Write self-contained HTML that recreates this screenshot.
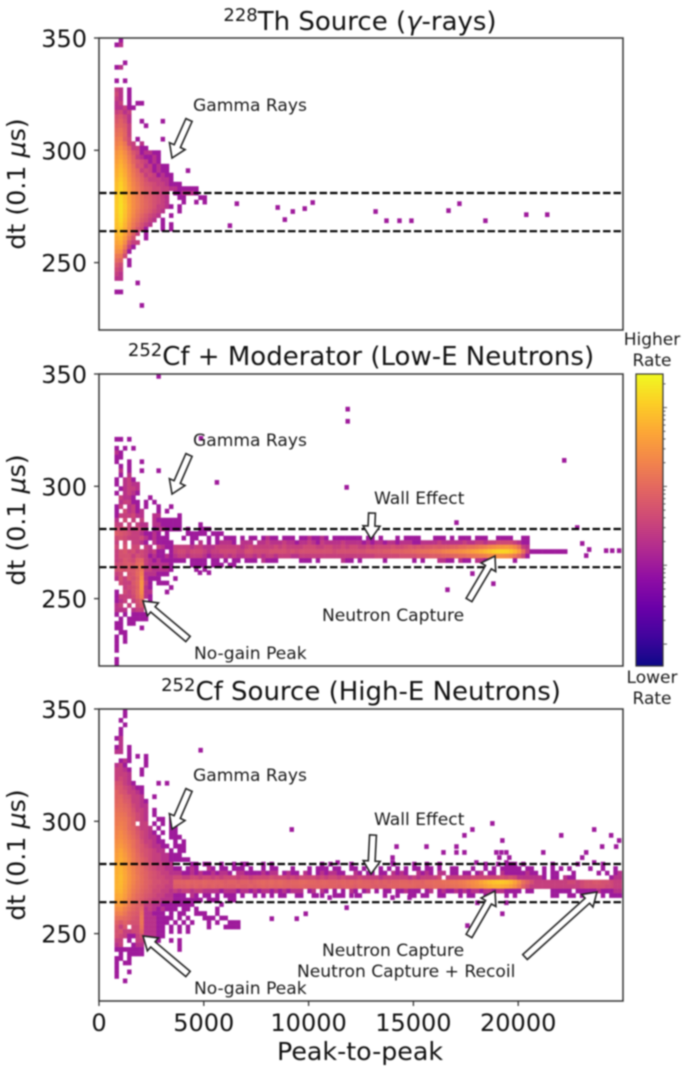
<!DOCTYPE html>
<html lang="en">
<head>
<meta charset="utf-8">
<title>Peak-to-peak vs dt heatmaps</title>
<style>
  html, body { margin: 0; padding: 0; background: #fff; }
  body { width: 685px; height: 1070px; overflow: hidden; }
  svg { display: block; filter: blur(0.7px); font-family: "DejaVu Sans", "Liberation Sans", sans-serif; fill: #111; }
  .tick-label { font-size: 24px; }
  .axis-label { font-size: 25.3px; }
  .panel-title { font-size: 26px; }
  .note { font-size: 17.1px; fill: #1a1a1a; }
  .cbar-note { font-size: 17px; fill: #1a1a1a; text-anchor: middle; }
</style>
</head>
<body>
<svg id="chart" xmlns="http://www.w3.org/2000/svg" width="685" height="1070" viewBox="0 0 685 1070">
  <defs>
    <linearGradient id="plasma-gradient" x1="0" y1="1" x2="0" y2="0"></linearGradient>
  </defs>
  <g id="cells"></g>
  <g id="dashes"></g>
  <g id="arrows"></g>
  <g id="axes"></g>

  <text class="panel-title" x="360" y="30" text-anchor="middle"><tspan font-size="18" dy="-9">228</tspan><tspan dy="9">Th Source (</tspan><tspan font-style="italic">γ</tspan>-rays)</text>
  <text class="panel-title" x="361" y="365" text-anchor="middle"><tspan font-size="18" dy="-9">252</tspan><tspan dy="9">Cf + Moderator (Low-E Neutrons)</tspan></text>
  <text class="panel-title" x="361" y="700" text-anchor="middle"><tspan font-size="18" dy="-9">252</tspan><tspan dy="9">Cf Source (High-E Neutrons)</tspan></text>

  <text class="axis-label" transform="translate(25,184) rotate(-90)" text-anchor="middle">dt (0.1 <tspan font-style="italic">μ</tspan>s)</text>
  <text class="axis-label" transform="translate(25,520) rotate(-90)" text-anchor="middle">dt (0.1 <tspan font-style="italic">μ</tspan>s)</text>
  <text class="axis-label" transform="translate(25,855) rotate(-90)" text-anchor="middle">dt (0.1 <tspan font-style="italic">μ</tspan>s)</text>
  <text class="axis-label" x="360" y="1060" text-anchor="middle">Peak-to-peak</text>

  <text class="note" x="193" y="111">Gamma Rays</text>
  <text class="note" x="193" y="446">Gamma Rays</text>
  <text class="note" x="374" y="504">Wall Effect</text>
  <text class="note" x="322" y="621">Neutron Capture</text>
  <text class="note" x="194" y="659">No-gain Peak</text>
  <text class="note" x="193" y="781">Gamma Rays</text>
  <text class="note" x="374" y="825">Wall Effect</text>
  <text class="note" x="322" y="956">Neutron Capture</text>
  <text class="note" x="297" y="977">Neutron Capture + Recoil</text>
  <text class="note" x="194" y="994">No-gain Peak</text>

  <text class="cbar-note" x="652" y="345">Higher</text>
  <text class="cbar-note" x="652" y="366">Rate</text>
  <text class="cbar-note" x="652" y="683">Lower</text>
  <text class="cbar-note" x="652" y="704">Rate</text>
  <rect id="colorbar" x="636" y="374" width="27" height="292" fill="url(#plasma-gradient)" stroke="#333" stroke-width="1.2"></rect>
  <g id="cbar-ticks"></g>
</svg>

<script>
/* ---------- shared axis values ---------- */
const xTicks = [0, 5000, 10000, 15000, 20000];
const yTicks = [350, 300, 250];
const referenceDt = [281, 264];
const cbarDecades = [0.1, 1, 10, 100];
const cbarMultipliers = [1, 2, 3, 4, 5, 6, 7, 8, 9];
const plasmaColors = ["#0d0887","#41049d","#6a00a8","#8f0da4","#b12a90","#cc4778","#e16462","#f2844b","#fca636","#fcce25","#f0f921"];

/* ---------- 228Th panel: [dt bin top, counts per peak-to-peak bin] ---------- */
const thRows = [
[350,[0,1]],[348,[1,2]],[340,[0,0,1]],[338,[1,2]],[332,[1,0,1]],
[328,[3,2,0,1]],[326,[4,2,0,1]],[324,[3,2,0,1]],[322,[2,3,0,1,0,1,1]],[320,[2,2,3,1,1]],
[318,[3,4,2,3]],[316,[5,6,4,2]],[314,[6,8,5,2,0,0,1,0,0,0,0,1]],[312,[8,9,7,3,0,0,0,1]],[310,[10,12,8,3]],
[308,[12,14,9,3]],[306,[15,18,8,4,0,1,0,0,0,0,0,1]],[304,[18,22,14,4,3,0,2]],[302,[22,30,18,9,3,3,1,1]],
[300,[30,38,24,12,6,4,1,2,2,1,1]],[298,[35,45,30,15,8,3,2,1,1,2,1]],[296,[40,55,35,18,9,6,4,3,1,2,1]],
[294,[48,65,42,22,12,5,5,2,3,1,2,1,1]],[292,[55,75,50,25,14,9,3,4,3,1,2,1,1,0,0,0,0,1]],
[290,[60,85,55,28,16,10,7,3,4,3,1,2,1,1]],[288,[70,100,65,32,18,12,8,5,3,3,3,2,2,1]],
[286,[80,115,70,36,20,14,9,6,5,4,3,3,2,1,1,1]],[284,[85,125,75,40,22,15,10,7,6,4,4,3,3,2,2,1,1,1,1,1]],
[282,[90,130,80,42,24,16,11,8,6,5,4,3,3,0,1,1,2,2,2,1]],[280,[95,140,85,45,25,17,12,8,7,5,4,3,2,0,0,1,1,0,0,0,1,1]],
[278,[100,150,90,45,26,18,12,9,7,5,4,3,2,0,0,0,1,0,0,1,0,1]],[276,[105,160,95,48,26,18,12,9,7,5,3,3,2,1,0,1]],
[274,[100,160,90,45,25,16,11,8,6,4,3,2,0,0,0,1]],[272,[95,150,85,42,22,14,9,6,4,3,2,0,0,1]],
[270,[90,140,75,36,18,12,7,5,3,2,0,1]],[268,[85,120,65,30,15,9,5,3,2,0,0,1,0,1]],
[266,[75,100,55,25,12,6,4,1,0,0,0,1,0,1]],[264,[65,85,45,18,8,3,0,1]],[262,[55,70,35,12,5,0,0,1]],
[260,[45,55,25,6,3,3]],[258,[35,40,15,3,1]],[256,[25,25,8,1]],[254,[15,14,4]],[252,[10,8,0,1]],
[250,[6,4,0,1]],[248,[4,3]],[246,[3,2]],[244,[2,2]],[242,[0,0,0,0,0,1]],[238,[1,1]],[232,[0,0,0,0,0,0,1]]
];
const thOutlierX = [6240,6570,8520,8860,9240,9810,10190,13190,13710,14330,14900,16670,17190,18430,20380,21380];
const thOutlierDt = [266.5,276.3,274.6,269.2,272.8,274.1,276.8,272.8,268.7,268.7,268.7,273.2,276.3,268.7,271.4,271.4];

/* ---------- 252Cf + moderator panel ---------- */
const modRows = [
[350,[0,0,0,0,0,0,0,0,0,0,1]],
[322,[1,1,0,1]],[318,[1,0,1,0,1]],[316,[2,1]],[314,[1,1]],[312,[1,0,0,1,0,0,1]],[310,[0,1,0,1]],
[308,[0,2,0,1,0,0,1,0,0,0,1]],[306,[0,1,0,2]],[304,[1,0,2,3,1]],[302,[1,0,2,3,2,2]],[300,[0,1,2,3,3,2]],
[298,[1,0,2,3,2,1]],[296,[0,3,2,2,1,0,0,0,1]],[294,[0,2,3,3,1,1,0,1,0,1]],[292,[1,3,0,2,3,1,0,1,0,0,1,0,0,1]],
[290,[1,0,4,2,3,1,2,0,0,0,1,0,1]],[288,[1,3,3,3,4,2,2,0,0,2,2,0,0,0,0,1]],[286,[2,0,4,0,3,0,3,0,0,2,1,1,1,1,1,1]],
[284,[3,3,0,3,0,3,2,2,0,2,2,1,1,1,1,1,0,0,0,0,1]],[282,[5,4,6,3,3,4,3,2,0,1,2,2,1,1,1,1,0,1,0,0,1,1,1]],
[280,[7,6,5,4,3,3,2,1,1,2,1,0,1,0,0,0,0,1,1,1,1,1,0,1,1,1]],
[278,[4,5,4,3,3,3,4,2,1,2,1,1,1,0]],[276,[3,0,4,0,3,3,2,1,0,2,1,1,1,1]],[274,[4,0,5,0,4,4,0,3,2,0,3,2,1,1]],
[272,[3,5,6,4,5,3,4,3,2,3,1,1,0,1]],[270,[3,5,5,5,3,5,4,3,1,2,1,1,2,1]],[268,[3,4,6,5,4,8,9,3,2,1,2,1,1,1]],
[266,[4,5,6,7,6,10,12,3,2,2,2,2,2,1,0,0,0,0,1,1,1,1,0,1,1,1,0,1,1]],[264,[5,6,5,6,6,9,14,3,3,2,2,2,2,1,0,0,0,0,0,1,0,1]],
[262,[3,4,0,5,6,10,18,2,2,2,1,1,1]],[260,[2,5,3,6,5,8,24,2,1,1,1,0,0,0,1]],[258,[0,4,3,3,6,9,30,3,1,0,1,1,1]],
[256,[0,0,3,4,5,8,30,2,1,0,0,0,0,1]],[254,[1,0,4,3,5,9,24,2,2,0,0,0,1]],[252,[1,3,3,3,4,8,18,2,1]],
[250,[1,2,3,0,3,5,8,0,1]],[248,[2,3,0,3,0,4,6]],[246,[2,2,2,0,2,3,3]],[244,[1,0,1,0,1,1,1,1]],
[242,[0,1,0,1,1,1,1,1]],[240,[1,1,0,1,1]],[238,[1,1,0,0,0,0,1]],[236,[0,1,1]],[234,[1,0,1]],[232,[1,0,1]],
[230,[1]],[228,[1]],[224,[1]],[222,[1]]
];
const modBandRows = [
[278,[0,0,1,0,1,1,0,0,1,0, 1,0,1,1,1,0,1,0,1,1, 0,1,2,1,1,0,1,1,1,0, 1,1,2,1,1,2,1,0,1,1, 1,1,1,1,1,0,1,1,0,1, 0,0,0,1,0,1,1,1,1,0, 0,0,1,1,1,0,1,0,1,1, 1,0,1,1,1,0,0,1,1,1, 1,0,0,1,1]],
[276,[0,0,0,0,1,0,2,0,1,0, 1,2,2,2,1,0,2,2,2,0, 2,2,3,2,2,2,3,2,2,1, 2,2,3,2,1,3,2,2,2,2, 3,2,2,2,2,1,2,1,2,2, 1,2,2,1,2,2,2,1,1,2, 2,2,2,3,2,2,2,2,2,3, 2,2,3,3,2,3,3,4,4,4, 4,3,2,1,1]],
[274,[3,3,3,3,2,3,3,2,2,2, 3,3,3,3,3,3,2,3,4,3, 3,3,3,3,4,3,4,3,3,3, 3,4,4,4,3,3,4,4,3,3, 4,3,4,4,3,3,4,3,4,4, 4,4,5,4,4,5,6,5,6,5, 6,6,7,6,7,7,8,8,10,10, 12,12,14,16,18,22,26,30,32,34, 30,22,12,3,2]],
[272,[3,4,4,3,4,4,4,3,2,3, 3,4,4,4,4,3,3,5,5,4, 4,4,4,5,5,5,5,4,5,4, 5,5,5,5,5,5,5,5,4,5, 5,5,5,5,5,5,6,6,6,6, 7,7,8,8,8,9,9,10,11,12, 12,13,14,15,18,20,22,24,26,30, 34,40,46,58,72,88,108,125,130,125, 100,70,40,12,3,1,1,1,1,1,1,1,1,1]],
[270,[2,3,3,2,3,3,3,2,1,2, 2,2,3,2,3,2,2,3,3,2, 3,2,3,3,2,3,3,3,2,2, 3,3,3,3,3,3,3,3,3,3, 3,3,3,3,3,3,3,3,4,4, 4,4,4,4,5,5,5,5,6,6, 6,7,7,7,8,8,9,9,11,11, 13,14,15,17,19,23,25,27,27,25, 21,15,9,4,1]],
[268,[1,1,1,0,1,1,1,1,0,1, 1,0,1,0,1,1,0,1,1,1, 0,2,1,1,1,0,0,0,0,0, 1,1,1,0,1,0,0,0,0,0, 2,1,1,0,1,0,0,0,0,0, 1,0,0,0,0,0,0,1,0,1, 0,0,0,2,2,1,1,0,2,1, 1,0,2,2,1,1,0,0,0,0, 0,1]]
];
const modOutlierX = [4860,5620,11860,11860,11810,17050,22810,23050,23380,23240,24190,24480,24810,17810,18810,16620,22190,4810,5240];
const modOutlierDt = [321.4,301.8,334.4,329,299.6,283.9,281.7,274.6,271.9,269.2,271.4,271.4,271.4,261.2,256.7,254,311.6,261.6,261.6];

/* ---------- 252Cf source panel ---------- */
const srcRows = [
[350,[0,0,1]],[348,[0,0,1]],[346,[0,1]],[344,[0,0,1]],[342,[0,1]],[340,[0,1]],[338,[1,2]],[336,[0,2]],
[334,[1,2,0,1]],[332,[2,2,0,1]],[330,[0,0,0,1,0,1,0,1]],[328,[0,1,2,1,0,0,0,1]],[326,[2,3,1,0,0,0,0,1]],
[324,[3,3,2,1,0,0,1]],[322,[3,3,3,2,0,0,1]],[320,[3,4,3,2]],[318,[5,5,3,2,1,0,0,0,0,0,1,0,1]],[316,[6,6,4,3,2,1,1]],
[314,[8,6,5,3,3,2,1]],[312,[8,9,6,5,3,3,2,0,0,1]],[310,[9,10,7,6,3,3,2,1]],[308,[10,11,9,7,4,3,2,2]],
[306,[12,12,10,8,5,3,3,2,0,1]],[304,[14,14,12,8,6,4,3,2,0,1]],[302,[15,16,14,10,7,4,3,2,0,0,1,1,0,1]],
[300,[16,18,15,10,7,0,3,3,0,1,0,1,0,1]],[298,[18,20,16,10,8,5,3,3,2,0,1,0,0,1,1]],[296,[20,24,18,12,9,6,4,3,2,1,0,1,0,1,1]],
[294,[22,26,20,14,10,7,4,3,2,2,1,0,0,1,1,1]],[292,[26,30,22,16,12,8,5,3,3,2,1,1,0,0,1,0,1]],
[290,[30,35,26,18,12,8,6,4,3,2,2,1,1,0,1,1,1]],[288,[35,45,30,20,14,9,6,5,4,3,2,2,0,1,0,1,1]],
[286,[40,50,35,22,15,10,7,5,4,3,3,2,2,1,1,1]],[284,[42,55,40,25,16,11,8,6,4,3,3,2,2,1,1,1,1,1]],
[282,[50,60,42,26,18,12,9,6,5,4,3,3,2,2]],[280,[55,65,45,28,19,13,10,7,5,4,3,3,2,2]],[278,[58,70,48,30,20,14,10,8,6,5,4,3,3,2]],
[276,[60,75,50,32,21,15,11,8,6,5,4,4,3,3]],[274,[60,72,48,30,20,14,11,8,7,5,5,4,4,3]],[272,[62,70,45,28,18,13,10,8,6,5,4,4,3,3]],
[270,[58,65,42,25,16,12,9,7,6,4,4,3,3,2]],[268,[50,55,38,22,14,10,8,6,5,4,3,3,2,2]],
[266,[45,48,32,18,12,9,7,5,4,3,3,2,2,2,1,1,1,1,1,1,1,0,1,1,1,0,0,1,1]],[264,[35,38,25,15,10,8,7,3,3,2,2,1,1,1,1,1,1,1,1,0,0,0,0,0,0,1]],
[262,[25,28,18,12,9,7,10,2,3,2,1,2,1,1,1,0,1,1,0,1,0,0,0,0,1]],[260,[18,20,14,9,7,6,12,2,2,1,1,1,0,1,0,1,1,0,0,1,1,1,0,0,1]],
[258,[12,12,10,8,6,5,14,2,2,2,1,1,1,1,0,1,0,1,0,0,0,1,1,1,0,1,1]],[256,[8,6,8,6,5,5,14,2,2,2,1,1,1,0,1,0,1,0,1,0,0,0,1,0,1,0,0,1,1,1]],
[254,[6,3,6,0,4,4,12,2,2,2,1,1,0,1,0,1,0,1,0,0,0,0,1,0,0,0,1,1,1,1]],[252,[5,6,3,3,4,4,9,2,2,2,1,1,0,1,0,1,0,1]],
[250,[5,4,3,1,1,3,5,2,2,2,1,1]],[248,[3,3,0,1,0,3,3,1,1,1,1,0,0,1,0,1]],[246,[2,3,0,0,1,2,2,0,0,0,0,0,0,0,0,1]],
[244,[1,1,1,1,1,1,1,0,0,0,0,0,0,0,0,1]],[242,[0,1,0,1,1,1,1]],[240,[1,1,0,1]],[238,[1,0,1,1]],[236,[1]],[234,[1,0,0,1]],
[232,[1]],[230,[0,0,1]]
];
const srcBandRows = [
[282,[0,0,0,0,1,1,0,1,1,0, 0,1,0,0,1,0,1,1,0,0, 0,1,0,1,0,0,0,0,0,0, 0,0,0,0,0,1,0,1,0,0, 0,0,1,0,0,0,0,0,0,0, 0,0,1,0,0,0,0,1,0,0, 1,0,0,1,0,0,0,0,0,0, 0,0,0,0,1,0,0,1,0,1, 1,1,0,1,0,0,0,0,0,0, 1,0,0,0,0,0,1,0,0,0, 0,0,1,0,0,0,0]],
[280,[1,1,0,1,2,1,0,0,2,1, 0,1,1,0,1,1,1,0,1,0, 0,1,0,1,1,0,0,0,1,0, 0,0,1,0,1,1,1,0,1,1, 0,0,1,1,0,1,0,0,0,1, 0,1,0,1,0,1,0,1,1,0, 1,1,0,1,0,0,1,1,0,0, 0,1,0,0,1,0,1,0,1,1, 1,1,1,0,1,1,0,0,1,0, 1,0,1,0,1,0,0,0,0,1, 0,0,1,0,0,1,0]],
[278,[2,2,1,1,2,1,2,1,1,2, 1,2,2,1,0,2,2,1,1,1, 1,2,1,2,2,0,1,2,1,1, 0,2,1,0,1,2,1,2,2,1, 1,0,0,2,1,0,1,1,0,1, 1,0,2,1,2,1,0,0,2,1, 2,1,0,2,2,0,1,1,0,1, 1,0,1,2,0,1,1,0,2,1, 1,1,1,1,2,1,1,0,1,0, 1,1,0,0,0,1,0,0,0,0, 0,1,0,1,0,1,2]],
[276,[4,4,3,3,4,4,3,4,4,3, 4,3,4,4,4,3,4,4,3,4, 4,4,4,5,4,4,4,3,4,3, 4,4,4,4,3,4,3,4,4,3, 4,3,3,3,4,3,3,3,3,2, 3,3,3,3,3,3,2,3,2,3, 3,3,3,4,0,3,3,3,3,3, 3,4,4,4,4,4,4,4,5,4, 5,4,2,2,2,2,2,2,1,0, 1,1,0,2,1,1,0,0,0,0, 0,0,0,0,1,2,2]],
[274,[8,8,8,9,8,8,8,9,8,8, 8,8,7,8,8,7,8,8,7,8, 9,10,9,10,9,10,9,8,9,9, 10,10,9,9,8,9,9,8,8,8, 9,8,9,8,9,8,8,7,8,7, 8,7,8,8,9,9,8,9,9,8, 10,10,11,11,12,12,14,14,16,18, 22,26,32,45,60,75,90,100,100,90, 70,45,25,12,8,5,3,3,3,3, 3,3,3,3,4,4,3,4,5,5, 6,6,5,5,4,3,3]],
[272,[7,7,7,8,7,8,7,8,7,8, 7,8,7,7,7,8,7,7,8,7, 8,9,8,9,8,9,8,8,8,8, 9,8,8,8,8,8,8,8,8,7, 8,8,8,7,8,8,8,7,7,7, 7,8,8,8,9,9,9,9,8,8, 9,9,10,10,10,11,12,12,14,15, 18,22,26,32,40,50,60,60,55,50, 40,28,16,8,5,3,3,3,3,3, 3,3,3,3,3,3,3,4,5,5, 5,5,5,4,4,3,3]],
[270,[3,2,3,3,2,3,3,2,2,2, 2,1,2,2,2,1,2,2,1,2, 1,2,2,1,2,1,2,1,2,2, 2,0,1,2,0,2,1,0,1,0, 1,0,2,1,0,1,2,0,1,0, 1,1,0,1,1,2,1,1,1,0, 1,2,0,1,2,1,1,2,1,2, 1,2,2,1,2,2,1,2,2,1, 1,1,1,0,1,1,0,0,0,0, 1,1,1,1,1,0,1,1,1,1, 1,2,1,1,1,2,2]],
[268,[1,1,1,0,2,1,0,1,1,0, 1,0,1,1,1,0,1,0,0,1, 0,1,0,1,0,1,1,0,0,1, 1,0,0,1,0,1,0,0,1,1, 1,0,1,0,1,0,0,0,0,0, 1,0,0,1,0,0,1,1,0,1, 1,0,0,1,1,0,0,0,1,0, 1,1,0,0,1,0,0,0,0,1, 0,1,0,0,0,0,0,0,0,0, 1,1,0,0,1,1,0,1,0,1, 0,0,1,0,1,1,1]]
];
const srcOutlierX = [8238,9429,9857,9190,17810,17429,18762,22048,23619,24429,24810,24000,24667,14190,15619,16429,17048,17048,17429,19238,18952,19190,19429,21190,23238,23048,14000,19095,19571,19429,14000,18000,11381,23619,19238,17571,19429,18048,10381,11000,12286,14810,14000,11810,4843];
const srcOutlierDt = [256.7,256.7,258.9,296.4,296.4,293.8,299.1,293.8,296.4,293.8,291.5,288.8,288.8,288.8,288.8,286.2,288.8,286.2,286.2,291.5,286.2,286.2,286.2,286.2,286.2,283.9,283.9,283.9,283.9,281.7,281.7,281.7,281.7,281.7,258.9,253.6,263.8,263.8,267,266.1,267,266.1,266.1,261.6,331.7];

/* ---------- scales and helpers ---------- */
const SVGNS = "http://www.w3.org/2000/svg";
const X_MIN = 0, X_MAX = 25000, X_LEFT = 99, X_RIGHT = 623;
const DT_MIN = 220, DT_MAX = 350, PANEL_HEIGHT = 292;
const BIN_ORIGIN = 740, BIN_WIDTH = 200, BAND_START_COL = 14, DT_BIN = 2;
const RATE_AT_ONE = 0.345, RATE_PER_DECADE = 0.27;
const CBAR_TOP = 374, CBAR_HEIGHT = 292;

function xScale(v) { return X_LEFT + (v - X_MIN) / (X_MAX - X_MIN) * (X_RIGHT - X_LEFT); }
function yScale(dt, top) { return top + (DT_MAX - dt) / (DT_MAX - DT_MIN) * PANEL_HEIGHT; }
function rateFraction(n) { return RATE_AT_ONE + RATE_PER_DECADE * Math.log10(n); }
function hexToRgb(h) { return [1, 3, 5].map(function (i) { return parseInt(h.substr(i, 2), 16); }); }
function plasma(t) {
  const c = Math.max(0, Math.min(1, t)) * (plasmaColors.length - 1);
  const i = Math.min(Math.floor(c), plasmaColors.length - 2);
  const a = hexToRgb(plasmaColors[i]), b = hexToRgb(plasmaColors[i + 1]), f = c - i;
  return "rgb(" + a.map(function (v, k) { return Math.round(v + (b[k] - v) * f); }).join(",") + ")";
}
function make(tag, parent) {
  const el = document.createElementNS(SVGNS, tag);
  parent.appendChild(el);
  return el;
}

const cellsGroup = document.getElementById("cells");
function drawCell(xStart, dtTop, count, top) {
  const rect = make("rect", cellsGroup);
  
  
  rect.setAttribute("x", xScale(xStart).toFixed(2));
  rect.setAttribute("y", yScale(dtTop, top).toFixed(2));
  rect.setAttribute("width", (xScale(BIN_WIDTH) - xScale(0) + 0.25).toFixed(2));
  rect.setAttribute("height", (yScale(DT_MAX - DT_BIN, 0) + 0.25).toFixed(2));
  rect.setAttribute("fill", plasma(rateFraction(count)));
}
function drawRows(rows, startCol, top) {
  rows.forEach(function (row) {
    row[1].forEach(function (count, i) {
      if (count > 0) drawCell(BIN_ORIGIN + (startCol + i) * BIN_WIDTH, row[0], count, top);
    });
  });
}
function drawOutliers(xs, dts, top) {
  xs.forEach(function (x, i) {
    drawCell(x - BIN_WIDTH / 2, dts[i] + DT_BIN / 2, 1, top);
  });
}

/* ---------- panels ---------- */
const panelTops = [38, 374, 709];
drawRows(thRows, 0, panelTops[0]);
drawOutliers(thOutlierX, thOutlierDt, panelTops[0]);
drawRows(modRows, 0, panelTops[1]);
drawRows(modBandRows, BAND_START_COL, panelTops[1]);
drawOutliers(modOutlierX, modOutlierDt, panelTops[1]);
drawRows(srcRows, 0, panelTops[2]);
drawRows(srcBandRows, BAND_START_COL, panelTops[2]);
drawOutliers(srcOutlierX, srcOutlierDt, panelTops[2]);

/* reference lines */
const dashGroup = document.getElementById("dashes");
panelTops.forEach(function (top) {
  referenceDt.forEach(function (dt) {
    const line = make("line", dashGroup);
    
    
    line.setAttribute("x1", X_LEFT);
    line.setAttribute("x2", X_RIGHT);
    line.setAttribute("y1", yScale(dt, top));
    line.setAttribute("y2", yScale(dt, top));
    line.setAttribute("stroke", "#000");
    line.setAttribute("stroke-width", "2.2");
    line.setAttribute("stroke-dasharray", "7.5 3");
  });
});

/* annotation arrows: tail to tip */
const arrowSegments = [
  [189,120,172,158],[189,455,172,494],[188,639,143,601],[372,513,371,539],[469,600,495,556],
  [189,790,172,829],[188,974,143,936],[373,835,371,874],[469,936,495,891],[525,957,597,892]
];
const arrowGroup = document.getElementById("arrows");
arrowSegments.forEach(function (s) {
  const dx = s[2] - s[0], dy = s[3] - s[1], len = Math.hypot(dx, dy);
  const ux = dx / len, uy = dy / len, nx = -uy, ny = ux;
  const shaft = 3.4, head = 8.5, headLen = Math.min(13, len * 0.5);
  const bx = s[2] - ux * headLen, by = s[3] - uy * headLen;
  const pts = [
    [s[0] + nx * shaft, s[1] + ny * shaft],
    [bx + nx * shaft, by + ny * shaft],
    [bx + nx * head, by + ny * head],
    [s[2], s[3]],
    [bx - nx * head, by - ny * head],
    [bx - nx * shaft, by - ny * shaft],
    [s[0] - nx * shaft, s[1] - ny * shaft]
  ];
  const poly = make("polygon", arrowGroup);
  
  
  poly.setAttribute("points", pts.map(function (p) { return p[0].toFixed(1) + "," + p[1].toFixed(1); }).join(" "));
  poly.setAttribute("fill", "#fff");
  poly.setAttribute("stroke", "#222");
  poly.setAttribute("stroke-width", "1.6");
  poly.setAttribute("stroke-linejoin", "miter");
});

/* axes */
const axesGroup = document.getElementById("axes");
panelTops.forEach(function (top, p) {
  const frame = make("rect", axesGroup);
  
  
  frame.setAttribute("x", X_LEFT);
  frame.setAttribute("y", top);
  frame.setAttribute("width", X_RIGHT - X_LEFT);
  frame.setAttribute("height", PANEL_HEIGHT);
  frame.setAttribute("fill", "none");
  frame.setAttribute("stroke", "#333");
  frame.setAttribute("stroke-width", "1.5");
  yTicks.forEach(function (v) {
    const t = make("line", axesGroup);
    
    
    t.setAttribute("x1", X_LEFT - 5);
    t.setAttribute("x2", X_LEFT);
    t.setAttribute("y1", yScale(v, top));
    t.setAttribute("y2", yScale(v, top));
    t.setAttribute("stroke", "#333");
    t.setAttribute("stroke-width", "1.3");
    const label = make("text", axesGroup);
    
    
    label.setAttribute("class", "tick-label");
    label.setAttribute("x", X_LEFT - 12);
    label.setAttribute("y", yScale(v, top) + 9);
    label.setAttribute("text-anchor", "end");
    label.textContent = v;
  });
});
xTicks.forEach(function (v) {
  const bottom = panelTops[2] + PANEL_HEIGHT;
  const t = make("line", axesGroup);
  
  
  t.setAttribute("x1", xScale(v));
  t.setAttribute("x2", xScale(v));
  t.setAttribute("y1", bottom);
  t.setAttribute("y2", bottom + 5);
  t.setAttribute("stroke", "#333");
  t.setAttribute("stroke-width", "1.3");
  const label = make("text", axesGroup);
  
  
  label.setAttribute("class", "tick-label");
  label.setAttribute("x", xScale(v));
  label.setAttribute("y", bottom + 30);
  label.setAttribute("text-anchor", "middle");
  label.textContent = v;
});

/* colorbar */
const gradient = document.getElementById("plasma-gradient");
plasmaColors.forEach(function (c, i) {
  const stop = make("stop", gradient);
  stop.setAttribute("offset", i / (plasmaColors.length - 1));
  stop.setAttribute("stop-color", c);
});
const tickGroup = document.getElementById("cbar-ticks");
cbarDecades.forEach(function (decade) {
  cbarMultipliers.forEach(function (m) {
    const f = rateFraction(decade * m);
    if (f < 0 || f > 1) return;
    const y = CBAR_TOP + CBAR_HEIGHT * (1 - f);
    const t = make("line", tickGroup);
    
    
    t.setAttribute("x1", 663);
    t.setAttribute("x2", m === 1 ? 667 : 665.5);
    t.setAttribute("y1", y);
    t.setAttribute("y2", y);
    t.setAttribute("stroke", "#555");
    t.setAttribute("stroke-width", "1");
  });
});
</script>
</body>
</html>
